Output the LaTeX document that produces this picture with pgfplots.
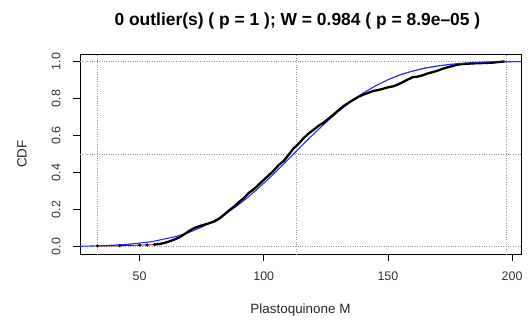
\documentclass[border=0pt]{standalone}
\usepackage{pgfplots}
\pgfplotsset{compat=1.18}
\usepackage{fontspec}
\setmainfont{Liberation Sans}
\definecolor{rblue}{RGB}{40,40,255}
\definecolor{rred}{RGB}{139,0,0}
\begin{document}
\begin{tikzpicture}
\useasboundingbox (-80bp,-69bp) rectangle (449bp,254bp);
\begin{axis}[
  at={(0,0)}, anchor=south west,
  scale only axis, width=441bp, height=200bp,
  xmin=26, xmax=203.6, ymin=-0.04, ymax=1.04,
  axis line style={line width=0.8bp},
  tick pos=left, tick align=outside,
  major tick length=7bp,
  tick style={line width=0.8bp, black},
  xtick={50,100,150,200},
  ytick={0,0.2,0.4,0.6,0.8,1.0},
  yticklabels={0.0,0.2,0.4,0.6,0.8,1.0},
  /pgf/number format/assume math mode=true,
  ticklabel style={font=\fontsize{12.5}{14}\selectfont, text=black!80},
  yticklabel style={rotate=90, anchor=south, yshift=9bp},
  xticklabel style={anchor=north, yshift=-7bp},
  extra x ticks={33.2,113.2,197.6},
  extra x tick labels={},
  extra x tick style={grid=major, major tick length=0pt},
  extra y ticks={0,0.5,1},
  extra y tick labels={},
  extra y tick style={grid=major, major tick length=0pt},
  major grid style={dotted, gray!80, line width=0.8bp},
  xlabel={Plastoquinone M},
  ylabel={CDF},
  every axis x label/.style={at={(axis description cs:0.5,-0.28)}, anchor=center, font=\fontsize{13.5}{15}\selectfont, text=black!85},
  every axis y label/.style={at={(axis description cs:-0.1315,0.5)}, anchor=center, rotate=90, font=\fontsize{13.5}{15}\selectfont, text=black!85},
  every axis title/.style={at={(axis description cs:0.493,1.165)}, anchor=center},
  title={\textbf{0 outlier(s) ( p = 1 ); W = 0.984 ( p = 8.9e--05 )}},
  title style={font=\fontsize{17.5}{19}\selectfont},
]
\addplot[rblue, line width=1.1bp] coordinates {
(26,0.0018) (35,0.0045) (45,0.0116) (55,0.0267) (65,0.0556) (70,0.0772)
(75,0.1049) (80,0.139) (85,0.180) (90,0.228) (95,0.282) (100,0.342)
(105,0.406) (110,0.473) (115,0.541) (120,0.607) (125,0.670) (130,0.729)
(135,0.782) (140,0.829) (145,0.868) (150,0.901) (155,0.928) (160,0.948)
(165,0.964) (170,0.975) (175,0.984) (180,0.989) (185,0.993) (190,0.996)
(195,0.9976) (203.6,0.9991)
};
\addplot[rred, line width=0.9bp] coordinates {
(33,0.003) (40,0.004) (45,0.006) (50,0.008) (55,0.010) (57,0.012)
};
\addplot[only marks, mark=*, mark size=1.3bp, black] coordinates {
(33,0.003) (42,0.005) (50,0.008) (53,0.009) (56,0.011)
};
\addplot[black, line width=2.3bp] coordinates {
(56,0.011) (58,0.014) (60,0.020) (62,0.028) (64,0.038) (66,0.050) (68,0.066)
(70,0.085) (72,0.100) (74,0.110) (77,0.122) (80,0.135) (82,0.150)
(84,0.172) (86,0.195) (88,0.215) (90,0.240) (92,0.262) (94,0.290)
(96,0.310) (98,0.335) (100,0.360) (102,0.385) (104,0.410) (106,0.440)
(108,0.462) (110,0.495) (112,0.530) (114,0.555) (116,0.585) (118,0.610)
(120,0.630) (122,0.652) (124,0.668) (126,0.690) (128,0.712) (130,0.735)
(132,0.758) (134,0.775) (136,0.792) (138,0.808) (140,0.820) (142,0.830)
(144,0.840) (146,0.845) (148,0.852) (150,0.860) (152,0.865) (154,0.875)
(156,0.888) (158,0.902) (160,0.915) (162,0.918) (164,0.925) (166,0.935)
(168,0.942) (170,0.950) (172,0.960) (174,0.968) (176,0.975) (178,0.982)
(180,0.986) (184,0.989) (188,0.991) (192,0.993) (197,1.0)
};
\addplot[rblue, line width=0.8bp, opacity=0.6] coordinates {
(150,0.901) (155,0.928) (160,0.948) (165,0.964) (170,0.975) (175,0.984) (180,0.989) (185,0.993) (190,0.996) (195,0.9976) (203.6,0.9991)
};
\end{axis}
\end{tikzpicture}
\end{document}
